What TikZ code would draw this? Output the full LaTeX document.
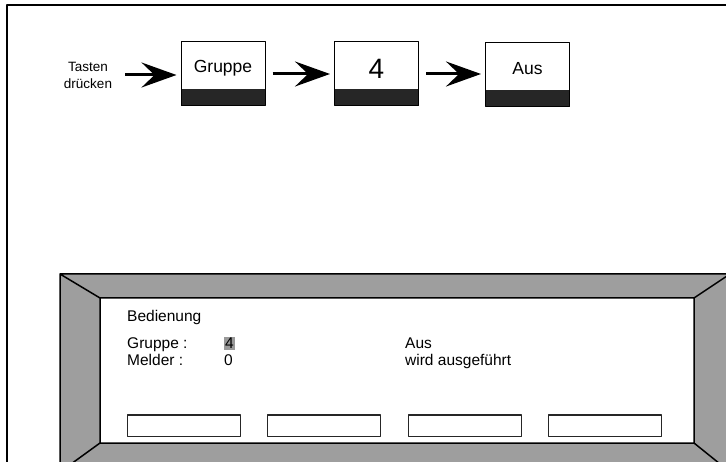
\documentclass[tikz,border=0pt]{standalone}
\usepackage{fontspec}
\setmainfont{Liberation Sans}
\usetikzlibrary{arrows.meta}
\tikzset{
  keybox/.style={draw=black,line width=1pt,minimum width=84pt,minimum height=64pt,inner sep=0pt,
    path picture={\fill[black!85] ([yshift=17pt]path picture bounding box.south west) rectangle (path picture bounding box.south east);}},
  keylabel/.style={anchor=base,inner sep=0pt,font=\fontsize{17.5}{20}\selectfont},
  keyarrow/.style={line width=3pt,-{Stealth[length=35pt,width=25pt,inset=13pt]},shorten <=7pt,shorten >=4pt},
  disptext/.style={anchor=base west,inner sep=0pt,font=\fontsize{15.5}{18}\selectfont},
  softkey/.style={draw=black!85,line width=1pt,fill=white,minimum width=113pt,minimum height=21pt,inner sep=0pt},
  bezel/.style={fill=black!38}
}
\begin{document}
\begin{tikzpicture}[x=1pt,y=-1pt,line join=round]
\useasboundingbox (0,0) rectangle (726,462);
\clip (0,0) rectangle (726,462);
\draw[line width=2pt] (7,480) -- (7,5) -- (740,5);
% key sequence
\node[align=center,inner sep=0pt,font=\fontsize{13.5}{17}\selectfont] (tasten) at (88,75) {Tasten\\drücken};
\node[keybox] (gruppe) at (223,74) {};
\node[keybox] (vier) at (376.5,74) {};
\node[keybox] (aus) at (527.5,75) {};
\node[keylabel] at ([yshift=1pt]gruppe.center) {Gruppe};
\node[keylabel,font=\fontsize{28}{30}\selectfont] at ([yshift=-5pt]vier.center) {4};
\node[keylabel] at ([yshift=0pt]aus.center) {Aus};
\draw[keyarrow,shorten <=13pt] (tasten.east) -- (tasten.east -| gruppe.west);
\draw[keyarrow] (gruppe.east) -- (gruppe.east -| vier.west);
\draw[keyarrow] (vier.east) -- (vier.east -| aus.west);
% display
\fill[bezel] (60,274) rectangle (730,472);
\fill[white] (100,298) rectangle (694,443);
\draw[line width=1.5pt] (60,274) rectangle (730,472) (100,298) rectangle (694,443)
  (60,274) -- (100,298) (730,274) -- (694,298) (60,472) -- (100,443) (730,472) -- (694,443);
\node[disptext] (bed) at (127,322) {Bedienung};
\node[disptext] (grp) at (127,349) {Gruppe :};
\node[disptext] (mld) at (127,366) {Melder :};
\node[disptext,fill=black!40,inner sep=1pt] (grpval) at (224,349) {4};
\node[disptext] (mldval) at (224,366) {0};
\node[disptext] (cmd) at (405,349) {Aus};
\node[disptext] (stat) at (405,366) {wird ausgeführt};
\foreach \i in {0,...,3}
  \node[softkey] (sk\i) at ({183.5+140.5*\i},425.5) {};
\end{tikzpicture}
\end{document}
